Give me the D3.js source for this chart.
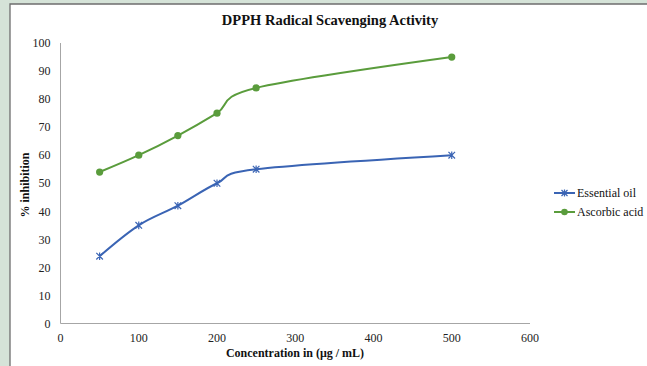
<!DOCTYPE html>
<html>
<head>
<meta charset="utf-8">
<script src="https://cdn.jsdelivr.net/npm/d3@7"></script>
<style>
html,body{margin:0;padding:0;background:#d5e3d8;}
svg{display:block;}
</style>
</head>
<body>
<svg id="chart" width="647" height="366"></svg>
<script>
const concentrations = [50, 100, 150, 200, 250, 500];
const essentialOil = [24, 35, 42, 50, 55, 60];
const ascorbicAcid = [54, 60, 67, 75, 84, 95];
const xTicks = [0, 100, 200, 300, 400, 500, 600];
const yTicks = [0, 10, 20, 30, 40, 50, 60, 70, 80, 90, 100];
const seriesNames = ["Essential oil", "Ascorbic acid"];

const svg = d3.select("#chart");
const W = 647, H = 366;

// frame
svg.append("rect").attr("x", 0).attr("y", 0).attr("width", W).attr("height", H).attr("fill", "#d5e3d8");
svg.append("rect").attr("x", 10).attr("y", 4).attr("width", W - 10).attr("height", H - 4).attr("fill", "#ffffff");
svg.append("path").attr("d", `M10,${H} L10,4 L${W},4`).attr("fill", "none").attr("stroke", "#6e6e6e").attr("stroke-width", 1.3);

const x = d3.scaleLinear().domain([0, 600]).range([60.5, 530]);
const y = d3.scaleLinear().domain([0, 100]).range([323.5, 43]);

const font = "'Liberation Serif', 'Times New Roman', serif";

// axes lines
svg.append("line").attr("x1", x(0)).attr("x2", x(0)).attr("y1", y(100)).attr("y2", y(0))
  .attr("stroke", "#a6a6a6").attr("stroke-width", 1);
svg.append("line").attr("x1", x(0)).attr("x2", x(600)).attr("y1", y(0)).attr("y2", y(0))
  .attr("stroke", "#a6a6a6").attr("stroke-width", 1);

// tick labels
svg.append("g").selectAll("text").data(yTicks).join("text")
  .attr("x", x(0) - 10).attr("y", d => y(d)).attr("dy", "0.35em")
  .attr("text-anchor", "end").attr("font-family", font).attr("font-size", 12).attr("fill", "#222")
  .text(d => d);
svg.append("g").selectAll("text").data(xTicks).join("text")
  .attr("x", d => x(d)).attr("y", y(0) + 18)
  .attr("text-anchor", "middle").attr("font-family", font).attr("font-size", 12).attr("fill", "#222")
  .text(d => d);

// titles
svg.append("text").attr("x", 330).attr("y", 25).attr("text-anchor", "middle")
  .attr("font-family", font).attr("font-weight", "bold").attr("font-size", 14.5).attr("fill", "#111")
  .text("DPPH Radical Scavenging Activity");
svg.append("text").attr("x", 295).attr("y", 357).attr("text-anchor", "middle")
  .attr("font-family", font).attr("font-weight", "bold").attr("font-size", 12).attr("fill", "#111")
  .text("Concentration in (μg / mL)");
svg.append("text").attr("transform", "translate(29,185) rotate(-90)").attr("text-anchor", "middle")
  .attr("font-family", font).attr("font-weight", "bold").attr("font-size", 12).attr("fill", "#111")
  .text("% inhibition");

const blue = "#3a64b4", green = "#5a9c3c";
const line = d3.line().x(d => x(d[0])).y(d => y(d[1])).curve(d3.curveCardinal.tension(0));
const eo = concentrations.map((c, i) => [c, essentialOil[i]]);
const aa = concentrations.map((c, i) => [c, ascorbicAcid[i]]);

svg.append("path").attr("d", line(eo)).attr("fill", "none").attr("stroke", blue).attr("stroke-width", 2);
svg.append("path").attr("d", line(aa)).attr("fill", "none").attr("stroke", green).attr("stroke-width", 2);

function star(g, cx, cy, s) {
  const p = `M${cx - s},${cy - s}L${cx + s},${cy + s}M${cx - s},${cy + s}L${cx + s},${cy - s}M${cx},${cy - s - 0.5}L${cx},${cy + s + 0.5}`;
  g.append("path").attr("d", p).attr("stroke", blue).attr("stroke-width", 1.2).attr("fill", "none");
}
const gm = svg.append("g");
eo.forEach(d => star(gm, x(d[0]), y(d[1]), 3.3));
svg.append("g").selectAll("circle").data(aa).join("circle")
  .attr("cx", d => x(d[0])).attr("cy", d => y(d[1])).attr("r", 3.6).attr("fill", green);

// legend
const lg = svg.append("g");
const rows = [{name: seriesNames[0], c: blue, t: "star", yy: 193}, {name: seriesNames[1], c: green, t: "circle", yy: 212}];
rows.forEach(r => {
  lg.append("line").attr("x1", 554).attr("x2", 575).attr("y1", r.yy).attr("y2", r.yy).attr("stroke", r.c).attr("stroke-width", 2);
  if (r.t === "star") star(lg, 564.5, r.yy, 3);
  else lg.append("circle").attr("cx", 564.5).attr("cy", r.yy).attr("r", 3.3).attr("fill", r.c);
  lg.append("text").attr("x", 577).attr("y", r.yy).attr("dy", "0.35em")
    .attr("font-family", font).attr("font-size", 12).attr("fill", "#111").text(r.name);
});
</script>
</body>
</html>
